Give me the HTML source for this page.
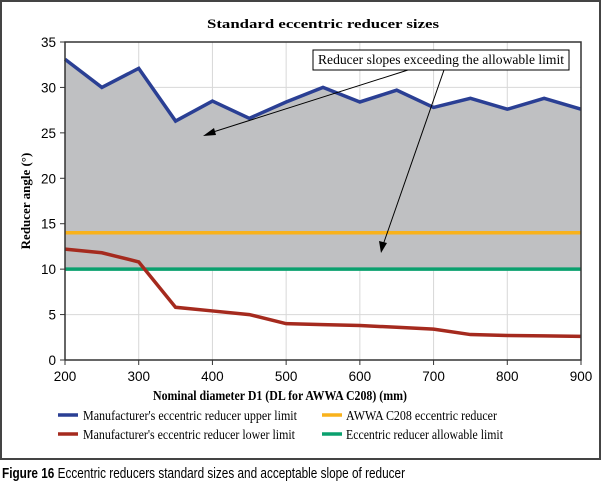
<!DOCTYPE html>
<html><head><meta charset="utf-8"><style>
body{margin:0;background:#fff;}
svg{display:block;font-family:"Liberation Serif",serif;}
</style></head><body>
<svg width="602" height="484">
<rect x="1" y="1" width="599" height="458" fill="#fff" stroke="#444" stroke-width="2"/>
<text x="323" y="28" text-anchor="middle" font-size="13" font-weight="bold" textLength="232" lengthAdjust="spacingAndGlyphs">Standard eccentric reducer sizes</text>
<g id="grid"></g>
<g id="marks"></g>
<g id="axes"></g>
<g>
<line x1="408" y1="70" x2="210" y2="133" stroke="#000" stroke-width="1"/>
<polygon points="203,136 214,128 216,135" fill="#000"/>
<line x1="444" y1="70" x2="383" y2="245" stroke="#000" stroke-width="1"/>
<polygon points="381,253 379,241 387,243" fill="#000"/>
<rect x="313" y="50" width="256" height="20" fill="#fff" stroke="#000"/>
<text x="318" y="64" font-size="13.5" textLength="246" lengthAdjust="spacingAndGlyphs">Reducer slopes exceeding the allowable limit</text>
</g>
<text x="153" y="400" font-size="14" font-weight="bold" textLength="254" lengthAdjust="spacingAndGlyphs">Nominal diameter D1 (DL for AWWA C208) (mm)</text>
<text transform="translate(30,201) rotate(-90)" text-anchor="middle" font-size="13" font-weight="bold">Reducer angle (°)</text>
<g font-size="14">
<line x1="58" y1="415" x2="78" y2="415" stroke="#2a3f94" stroke-width="3.5"/>
<text x="83" y="420" textLength="214" lengthAdjust="spacingAndGlyphs">Manufacturer's eccentric reducer upper limit</text>
<line x1="58" y1="434" x2="78" y2="434" stroke="#a52a1e" stroke-width="3.5"/>
<text x="83" y="439" textLength="212" lengthAdjust="spacingAndGlyphs">Manufacturer's eccentric reducer lower limit</text>
<line x1="322" y1="415" x2="342" y2="415" stroke="#f9b21b" stroke-width="3.5"/>
<text x="346" y="420" textLength="151" lengthAdjust="spacingAndGlyphs">AWWA C208 eccentric reducer</text>
<line x1="322" y1="434" x2="342" y2="434" stroke="#0aa06e" stroke-width="3.5"/>
<text x="346" y="439" textLength="157" lengthAdjust="spacingAndGlyphs">Eccentric reducer allowable limit</text>
</g>
<text x="2" y="478" font-family="Liberation Sans, sans-serif" font-size="14.5" textLength="403" lengthAdjust="spacingAndGlyphs"><tspan font-weight="bold">Figure 16</tspan> Eccentric reducers standard sizes and acceptable slope of reducer</text>
</svg>
<script>
const categories=[200,250,300,350,400,450,500,550,600,650,700,750,800,850,900];
const upperLimit=[33.1,30.0,32.1,26.3,28.5,26.6,28.4,30.0,28.4,29.7,27.8,28.8,27.6,28.8,27.6];
const lowerLimit=[12.2,11.8,10.8,5.8,5.4,5.0,4.0,3.9,3.8,3.6,3.4,2.8,2.7,2.65,2.6];
const awwaValue=14;
const allowableValue=10;
const xTicks=[200,300,400,500,600,700,800,900];
const yTicks=[0,5,10,15,20,25,30,35];
const NS='http://www.w3.org/2000/svg';
const X0=65,X1=581,Y0=360,Y1=42;
const xs=v=>X0+(v-200)/700*(X1-X0);
const ys=v=>Y0-v/35*(Y0-Y1);
function mk(tag,attrs,parent){const e=document.createElementNS(NS,tag);for(const k in attrs)e.setAttribute(k,attrs[k]);document.getElementById(parent).appendChild(e);return e;}
xTicks.forEach(t=>{
 const g=mk('line',{x1:xs(t),x2:xs(t),y1:Y1,y2:Y0,stroke:'#d8d8d8','stroke-width':1},'grid');
 
 
 const tk=mk('line',{x1:xs(t),x2:xs(t),y1:Y0,y2:Y0+5,stroke:'#333'},'axes');
 
 
 const tx=mk('text',{x:xs(t),y:Y0+21,'text-anchor':'middle','font-size':13.5,'font-family':'Liberation Sans, sans-serif'},'axes');
 tx.textContent=t;
 
 
});
yTicks.forEach(t=>{
 const g=mk('line',{x1:X0,x2:X1,y1:ys(t),y2:ys(t),stroke:'#d8d8d8','stroke-width':1},'grid');
 
 
 const tk=mk('line',{x1:X0-5,x2:X0,y1:ys(t),y2:ys(t),stroke:'#333'},'axes');
 
 
 const tx=mk('text',{x:X0-9,y:ys(t)+5,'text-anchor':'end','font-size':13.5,'font-family':'Liberation Sans, sans-serif'},'axes');
 tx.textContent=t;
 
 
});
let pts=categories.map((c,i)=>xs(c)+','+ys(upperLimit[i])).join(' ');
pts+=' '+xs(categories[categories.length-1])+','+ys(allowableValue)+' '+xs(categories[0])+','+ys(allowableValue);
const area=mk('polygon',{points:pts,fill:'#bfc0c2'},'marks');


function hline(v,col,name){const l=mk('line',{x1:X0,x2:X1,y1:ys(v),y2:ys(v),stroke:col,'stroke-width':3.5},'marks');
 
 }
hline(awwaValue,'#f9b21b','awwa-line');
hline(allowableValue,'#0aa06e','allowable-line');
function series(arr,col,name){const l=mk('polyline',{points:categories.map((c,i)=>xs(c)+','+ys(arr[i])).join(' '),fill:'none',stroke:col,'stroke-width':3.5,'stroke-linejoin':'miter'},'marks');
 
 }
series(upperLimit,'#2a3f94','upper-limit-line');
series(lowerLimit,'#a52a1e','lower-limit-line');
const fr=mk('polyline',{points:`${X0},${Y0} ${X0},${Y1} ${X1},${Y1} ${X1},${Y0} ${X0},${Y0}`,fill:'none',stroke:'#333','stroke-width':1.5},'axes');


</script>
</body></html>
